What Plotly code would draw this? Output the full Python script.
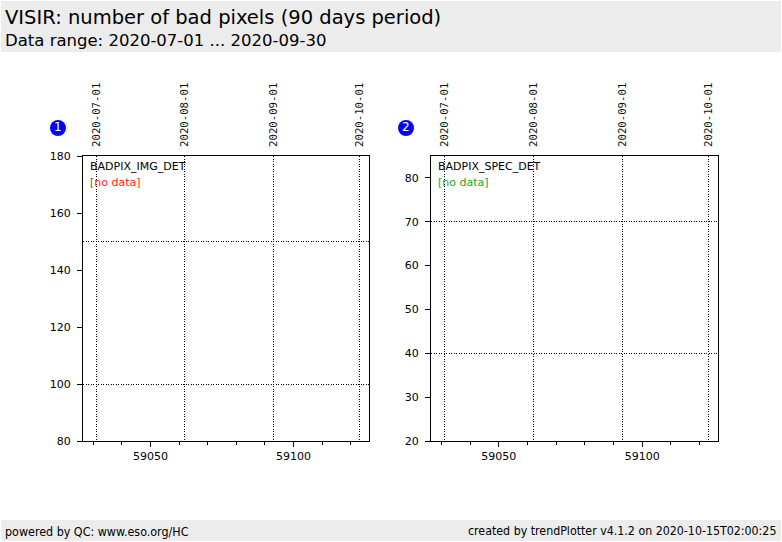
import plotly.graph_objects as go

W, H = 782, 542

# ---- data ----
panel_params = ["BADPIX_IMG_DET", "BADPIX_SPEC_DET"]
panel_numbers = ["1", "2"]
nodata_colors = ["#ff2020", "#2ca02c"]
mjd_range = [59026.4, 59126.4]
date_labels = ["2020-07-01", "2020-08-01", "2020-09-01", "2020-10-01"]
date_mjd = [59031, 59062, 59093, 59123]
y_range_1 = [80, 180]
y_range_2 = [20, 85]
y_dtick_1 = 20
y_dtick_2 = 10
hgrid_1 = [100, 150]
hgrid_2 = [40, 70]
# empty series (no data in period)
mjd_1, val_1 = [], []
mjd_2, val_2 = [], []

title = "VISIR: number of bad pixels (90 days period)"
subtitle = "Data range: 2020-07-01 ... 2020-09-30"
footer_left = "powered by QC: www.eso.org/HC"
footer_right = "created by trendPlotter v4.1.2 on 2020-10-15T02:00:25"


def px(x):
    return x / W


def py(y):
    return 1 - y / H


FONT = "DejaVu Sans"
MONO = "DejaVu Sans Mono"
FOOT = "DejaVu Sans Condensed, Liberation Sans Narrow, DejaVu Sans"
DOT = "1px,1.5px"

fig = go.Figure()

panels = [
    dict(xd=[83, 369], yr=y_range_1, dt=y_dtick_1, hg=hgrid_1, xs=mjd_1, ys=val_1,
         ax=("x", "x2", "y", "y2"), circ=58),
    dict(xd=[431, 718], yr=y_range_2, dt=y_dtick_2, hg=hgrid_2, xs=mjd_2, ys=val_2,
         ax=("x3", "x4", "y3", "y4"), circ=406),
]
ydom = [py(441), py(156)]

layout_axes = {}
for i, p in enumerate(panels):
    xb, xt, yb, yt = p["ax"]
    xdom = [px(p["xd"][0]), px(p["xd"][1])]
    fig.add_trace(go.Scatter(x=p["xs"], y=p["ys"], mode="markers", xaxis=xb, yaxis=yb,
                             showlegend=False, marker=dict(color="black")))
    fig.add_trace(go.Scatter(x=p["xs"], y=p["ys"], mode="markers", xaxis=xt, yaxis=yt,
                             showlegend=False, marker=dict(color="black")))
    xbk = "xaxis" + xb[1:]
    xtk = "xaxis" + xt[1:]
    ybk = "yaxis" + yb[1:]
    ytk = "yaxis" + yt[1:]
    layout_axes[xbk] = dict(
        domain=xdom, range=mjd_range, anchor=yb, tick0=59000, dtick=50, tickformat="d",
        ticks="outside", ticklen=5, tickwidth=1, tickcolor="black", automargin=False,
        showline=True, linecolor="black", linewidth=1, mirror=True,
        showgrid=False, zeroline=False,
        tickfont=dict(family=FONT, size=11, color="black"),
        minor=dict(dtick=10, tick0=59000, ticks="outside", ticklen=3,
                   tickcolor="black", showgrid=False),
    )
    layout_axes[xtk] = dict(
        overlaying=xb, side="top", anchor=yb, range=mjd_range, automargin=False,
        tickmode="array", tickvals=date_mjd, ticktext=date_labels,
        tickangle=-90, ticks="", ticklabelstandoff=8,
        tickfont=dict(family=MONO, size=10.7, color="#111111"),
        showgrid=True, gridcolor="black", gridwidth=0.8, griddash=DOT,
        showline=False, zeroline=False,
    )
    layout_axes[ybk] = dict(
        domain=ydom, range=p["yr"], anchor=xb, dtick=p["dt"], automargin=False,
        ticks="outside", ticklen=5, tickwidth=1, tickcolor="black", ticklabelstandoff=4,
        showline=True, linecolor="black", linewidth=1, mirror=True,
        showgrid=False, zeroline=False,
        tickfont=dict(family=FONT, size=11, color="black"),
    )
    layout_axes[ytk] = dict(
        overlaying=yb, anchor=xb, range=p["yr"], tickmode="array", tickvals=p["hg"],
        showticklabels=False, ticks="", automargin=False,
        showgrid=True, gridcolor="black", gridwidth=0.8, griddash=DOT,
        showline=False, zeroline=False,
    )

fig.update_layout(**layout_axes)

shapes = [
    dict(type="rect", xref="paper", yref="paper", x0=px(1), x1=px(781), y0=py(52), y1=py(1),
         fillcolor="#ececec", line=dict(width=0), layer="below"),
    dict(type="rect", xref="paper", yref="paper", x0=px(1), x1=px(781), y0=py(541), y1=py(520),
         fillcolor="#ececec", line=dict(width=0), layer="below"),
]
annotations = [
    dict(text=title, x=px(3), y=py(18), xref="paper", yref="paper", xanchor="left",
         yanchor="middle", showarrow=False, font=dict(family=FONT, size=19.5, color="black")),
    dict(text=subtitle, x=px(3), y=py(41), xref="paper", yref="paper", xanchor="left",
         yanchor="middle", showarrow=False, font=dict(family=FONT, size=16.5, color="black")),
    dict(text=footer_left, x=px(3), y=py(531), xref="paper", yref="paper", xanchor="left",
         yanchor="middle", showarrow=False, font=dict(family=FOOT, size=12.4, color="black")),
    dict(text=footer_right, x=px(778), y=py(531), xref="paper", yref="paper", xanchor="right",
         yanchor="middle", showarrow=False, font=dict(family=FOOT, size=12.3, color="black")),
]
for i, p in enumerate(panels):
    c = p["circ"]
    shapes.append(dict(type="circle", xref="paper", yref="paper",
                       x0=px(c - 8), x1=px(c + 8), y0=py(136), y1=py(120),
                       fillcolor="#0000ff", line=dict(width=0)))
    annotations.append(dict(text=panel_numbers[i], x=px(c), y=py(127.5), xref="paper", yref="paper",
                            showarrow=False, xanchor="center", yanchor="middle",
                            font=dict(family=FONT, size=12, color="white")))
    annotations.append(dict(text=panel_params[i], x=px(p["xd"][0] + 5), y=py(167), xref="paper",
                            yref="paper", xanchor="left", yanchor="middle", showarrow=False,
                            font=dict(family=FONT, size=11, color="black")))
    annotations.append(dict(text="[no data]", x=px(p["xd"][0] + 5), y=py(182), xref="paper",
                            yref="paper", xanchor="left", yanchor="middle", showarrow=False,
                            font=dict(family=FONT, size=11, color=nodata_colors[i])))

fig.update_layout(
    template="none",
    width=W, height=H, autosize=False, margin=dict(l=0, r=0, t=0, b=0, pad=0),
    paper_bgcolor="white", plot_bgcolor="white",
    font=dict(family=FONT, size=11, color="black"),
    shapes=shapes, annotations=annotations, showlegend=False,
)

fig.write_html(
    "out.html",
    config={"displayModeBar": False, "responsive": False},
    post_script=(
        "document.documentElement.style.margin='0px';"
        "document.body.style.margin='0px';"
        "document.body.style.padding='0px';"
        "document.documentElement.style.overflow='hidden';"
        "document.body.style.overflow='hidden';"
    ),
)
